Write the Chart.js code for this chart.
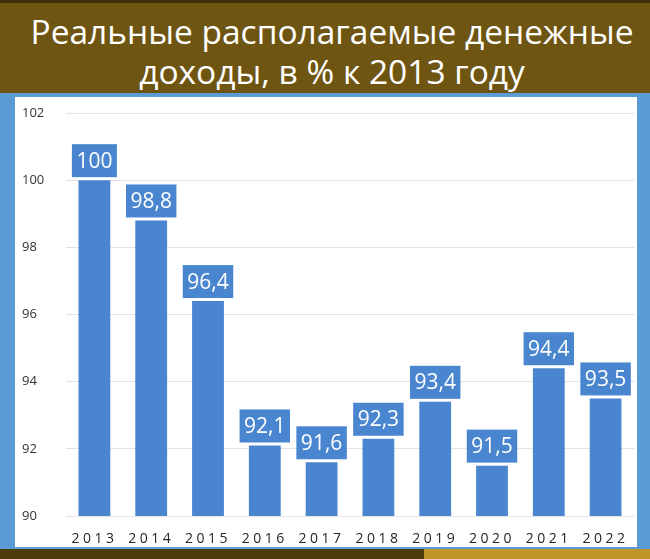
<!DOCTYPE html>
<html>
<head>
<meta charset="utf-8">
<script src="https://cdn.jsdelivr.net/npm/chart.js@4"></script>
<style>
  html, body { margin: 0; padding: 0; }
  body { width: 650px; height: 559px; background: #5b9bd5; position: relative; overflow: hidden; font-family: "Open Sans", sans-serif; }
  #banner { position: absolute; left: 0; top: 0; width: 650px; height: 93px; background: #6f5512; border-top: 3px solid #3d2f0c; box-sizing: border-box; color: #fff; text-align: center; }
  #banner div { font-size: 33.5px; line-height: 40px; white-space: nowrap; }
  #panel { position: absolute; left: 15px; top: 97px; width: 622px; height: 450px; background: #fff; }
  #strip1 { position: absolute; left: 0; top: 549px; width: 424px; height: 10px; background: #4e3b0b; }
  #strip2 { position: absolute; left: 424px; top: 549px; width: 226px; height: 10px; background: #bf9527; }
</style>
</head>
<body>
<div id="banner">
  <div style="padding-top:8px; margin-left:14px">Реальные располагаемые денежные</div>
  <div style="margin-left:14px">доходы, в % к 2013 году</div>
</div>
<div id="panel"><canvas id="myChart" width="622" height="450"></canvas></div>
<div id="strip1"></div>
<div id="strip2"></div>
<script>
let years = ["2013", "2014", "2015", "2016", "2017", "2018", "2019", "2020", "2021", "2022"];
let incomes = [100, 98.8, 96.4, 92.1, 91.6, 92.3, 93.4, 91.5, 94.4, 93.5];
let yTicks = [90, 92, 94, 96, 98, 100, 102];

const barColor = "#4a86d0";

// boxes with values above bars
const valueBoxes = {
  id: "valueBoxes",
  afterDatasetsDraw(chart) {
    const ctx = chart.ctx;
    const bars = chart.getDatasetMeta(0).data;
    ctx.save();
    ctx.font = '21px "Open Sans"';
    ctx.textAlign = "center";
    ctx.textBaseline = "middle";
    bars.forEach((bar, i) => {
      const txt = String(incomes[i]).replace(".", ",");
      const w = ctx.measureText(txt).width + 9;
      const h = 33;
      const bottom = bar.y - 3;
      ctx.fillStyle = barColor;
      ctx.fillRect(bar.x - w / 2, bottom - h, w, h);
      ctx.fillStyle = "#fff";
      ctx.fillText(txt, bar.x, bottom - h / 2 + 1);
    });
    ctx.restore();
  },
};

// spaced out year labels
const spacedX = {
  id: "spacedX",
  afterUpdate(chart) {
    const s = chart.scales.x;
    if (s._spaced) return;
    const orig = s.drawLabels.bind(s);
    s.drawLabels = function (area) {
      chart.ctx.save();
      chart.ctx.letterSpacing = "3.5px";
      orig(area);
      chart.ctx.restore();
    };
    s._spaced = true;
  },
};

let ctx = document.getElementById("myChart").getContext("2d");
let myChart = new Chart(ctx, {
  type: "bar",
  data: {
    labels: years,
    datasets: [
      {
        data: incomes,
        backgroundColor: barColor,
        barPercentage: 0.56,
        categoryPercentage: 1,
      },
    ],
  },
  options: {
    responsive: false,
    animation: false,
    layout: { padding: { left: 7, right: 3, top: 16, bottom: 0 } },
    plugins: { legend: { display: false }, tooltip: { enabled: false } },
    scales: {
      x: {
        grid: { display: false },
        border: { display: false },
        ticks: {
          color: "#262626",
          font: { family: "Open Sans", size: 14 },
          padding: 7,
          maxRotation: 0,
        },
        afterFit(scale) { scale.height = 31; },
      },
      y: {
        min: 90,
        max: 102,
        afterBuildTicks(scale) { scale.ticks = yTicks.map((v) => ({ value: v })); },
        grid: { color: "#e3e3e3", drawTicks: false },
        border: { display: false },
        ticks: {
          color: "#333",
          font: { family: "Open Sans", size: 13 },
          crossAlign: "far",
          padding: 0,
        },
        afterFit(scale) { scale.width = 44; },
      },
    },
  },
  plugins: [valueBoxes, spacedX],
});
</script>
</body>
</html>
